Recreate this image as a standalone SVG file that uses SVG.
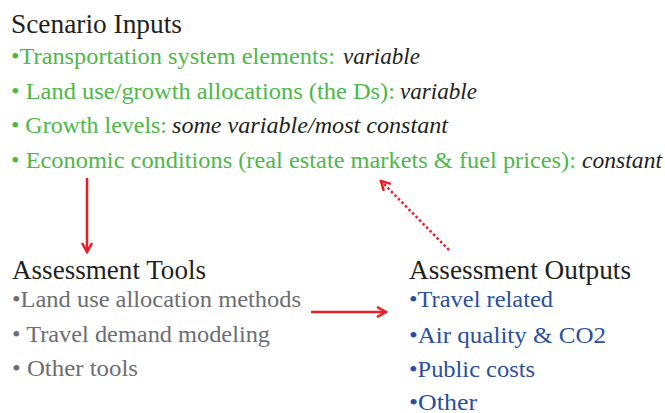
<svg xmlns="http://www.w3.org/2000/svg" width="665" height="413" viewBox="0 0 665 413">
  <style>
    text { font-family: "Liberation Serif", "DejaVu Serif", serif; }
    .title { font-size: 27px; fill: #231f20; }
    .item { font-size: 23px; }
    .green { fill: #4db848; }
    .gray { fill: #6d6e71; }
    .blue { fill: #2a4f9f; }
    .note { font-style: italic; fill: #231f20; }
    .link { fill: none; stroke: #ed1c24; stroke-width: 2.5; }
    .dotted { stroke-dasharray: 2.5 2.5; }
  </style>
  <defs>
    <marker id="chevron" viewBox="0 0 12 12" refX="10" refY="6" markerWidth="12" markerHeight="12" markerUnits="userSpaceOnUse" orient="auto">
      <path d="M1,1 L10,6 L1,11" fill="none" stroke="#ed1c24" stroke-width="2.5"/>
    </marker>
  </defs>

  <g id="scenario-inputs">
    <text class="title" x="11" y="33" textLength="171" lengthAdjust="spacingAndGlyphs">Scenario Inputs</text>
    <text class="item green" x="11" y="64" textLength="324" lengthAdjust="spacingAndGlyphs">•Transportation system elements:</text>
    <text class="item note" x="343" y="64" textLength="77" lengthAdjust="spacingAndGlyphs">variable</text>
    <text class="item green" x="11" y="99" textLength="384" lengthAdjust="spacingAndGlyphs">• Land use/growth allocations (the Ds):</text>
    <text class="item note" x="400" y="99" textLength="77" lengthAdjust="spacingAndGlyphs">variable</text>
    <text class="item green" x="11" y="133" textLength="156" lengthAdjust="spacingAndGlyphs">• Growth levels:</text>
    <text class="item note" x="172" y="133" textLength="276" lengthAdjust="spacingAndGlyphs">some variable/most constant</text>
    <text class="item green" x="11" y="168" textLength="565" lengthAdjust="spacingAndGlyphs">• Economic conditions (real estate markets &amp; fuel prices):</text>
    <text class="item note" x="582" y="168" textLength="80" lengthAdjust="spacingAndGlyphs">constant</text>
  </g>

  <g id="assessment-tools">
    <text class="title" x="12" y="279" textLength="194" lengthAdjust="spacingAndGlyphs">Assessment Tools</text>
    <text class="item gray" x="12" y="307" textLength="289" lengthAdjust="spacingAndGlyphs">•Land use allocation methods</text>
    <text class="item gray" x="12" y="342" textLength="258" lengthAdjust="spacingAndGlyphs">• Travel demand modeling</text>
    <text class="item gray" x="12" y="376" textLength="126" lengthAdjust="spacingAndGlyphs">• Other tools</text>
  </g>

  <g id="assessment-outputs">
    <text class="title" x="409" y="279" textLength="222" lengthAdjust="spacingAndGlyphs">Assessment Outputs</text>
    <text class="item blue" x="409" y="307" textLength="144" lengthAdjust="spacingAndGlyphs">•Travel related</text>
    <text class="item blue" x="409" y="343" textLength="197" lengthAdjust="spacingAndGlyphs">•Air quality &amp; CO2</text>
    <text class="item blue" x="409" y="377" textLength="126" lengthAdjust="spacingAndGlyphs">•Public costs</text>
    <text class="item blue" x="409" y="410" textLength="68" lengthAdjust="spacingAndGlyphs">•Other</text>
  </g>

  <g id="connectors">
    <line class="link" x1="87" y1="178" x2="87" y2="252" marker-end="url(#chevron)"/>
    <line class="link" x1="311" y1="312" x2="386" y2="312" marker-end="url(#chevron)"/>
    <line class="link dotted" x1="449" y1="250" x2="381" y2="181" marker-end="url(#chevron)"/>
  </g>
</svg>
